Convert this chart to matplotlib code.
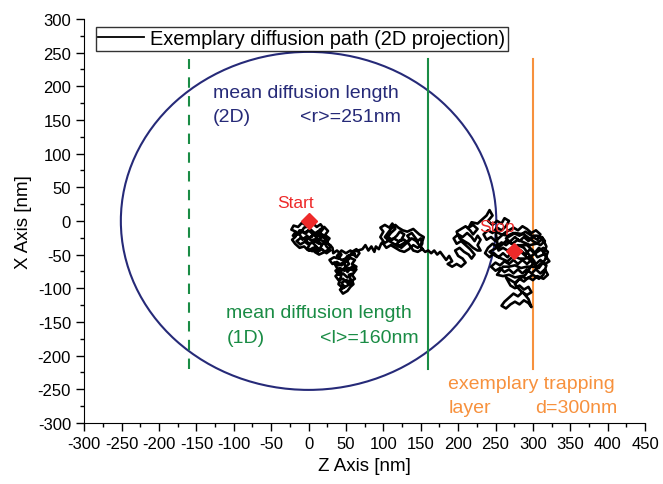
import matplotlib
matplotlib.use('Agg')
import matplotlib.pyplot as plt
from matplotlib.ticker import MultipleLocator
from matplotlib.patches import Circle

plt.rcParams['font.family'] = ['Liberation Sans', 'DejaVu Sans']
plt.rcParams['axes.unicode_minus'] = False

# === data (nm) ===
# diffusion path as (Z, X) points
path = [
    # start cluster
    (0, 0), (-4, -6), (-9, -3), (-14, -9), (-20, -7), (-23, -13), (-17, -16), (-21, -22), (-14, -20), (-9, -14),
    (-4, -19), (2, -12), (7, -17), (4, -24), (-3, -27), (-10, -25), (-16, -30), (-11, -35), (-5, -31), (1, -36),
    (-2, -42), (5, -45), (9, -38), (14, -43), (18, -36), (12, -30), (17, -24), (11, -20), (15, -13), (21, -9),
    (26, -15), (22, -21), (28, -26), (24, -32), (30, -37), (26, -43), (20, -47), (14, -50), (8, -46), (12, -40),
    (6, -33), (10, -27), (3, -29), (-2, -22), (-8, -28), (-12, -20), (-6, -10), (0, -8), (6, -4), (11, -9),
    (16, -5), (20, -11), (15, -18), (9, -23), (14, -28), (20, -30), (24, -38), (29, -44),
    (24, -48), (18, -42), (12, -46), (6, -40), (0, -44), (-6, -38), (-12, -40), (-18, -34), (-22, -28), (-18, -24),
    (-12, -14), (-6, -18), (0, -14), (6, -20), (12, -16), (18, -20), (24, -24), (20, -34), (14, -34), (8, -30),
    (2, -34), (-4, -30), (2, -24), (8, -20), (14, -22), (22, -26), (26, -34), (32, -40),
    # descending lobe
    (33, -48), (38, -44), (44, -50), (40, -56), (34, -54), (28, -58), (32, -64), (38, -61), (44, -66), (50, -60),
    (56, -55), (62, -58), (58, -64), (64, -68), (60, -74), (54, -70), (48, -74), (42, -70), (36, -74), (40, -80),
    (46, -78), (52, -84), (58, -80), (62, -86), (56, -90), (50, -88), (44, -92), (48, -98), (42, -102), (46, -108),
    (52, -104), (56, -98), (60, -94), (58, -88), (52, -92), (46, -86), (40, -88), (36, -82), (42, -76), (48, -70),
    (54, -64), (50, -56), (44, -58), (38, -52), (44, -44), (50, -48), (56, -44), (62, -50), (58, -46), (64, -42),
    (68, -48), (64, -54), (60, -50), (52, -52), (46, -62), (40, -66), (34, -62), (38, -70), (44, -80), (40, -94),
    (46, -100), (52, -96), (58, -92), (54, -80), (60, -78), (64, -72), (58, -68), (52, -76), (48, -64), (54, -52),
    (60, -46), (66, -44),
    # thin link
    (72, -42), (76, -36), (80, -44), (84, -38), (88, -46), (90, -38), (94, -42), (97, -34),
    # middle cluster
    (100, -30), (96, -24), (100, -16), (96, -10), (102, -6), (108, -10), (112, -4), (116, -12), (110, -18), (106, -24),
    (112, -28), (118, -22), (122, -16), (128, -20), (124, -28), (118, -34), (124, -40), (130, -34), (136, -28), (132, -22),
    (138, -18), (142, -24), (146, -30), (150, -26), (152, -34), (146, -40), (140, -36), (134, -42), (128, -46), (122, -44),
    (116, -40), (110, -36), (104, -40), (100, -34), (106, -30), (114, -26), (120, -30), (128, -28), (134, -34), (140, -44),
    (146, -46), (152, -42), (148, -36), (144, -30), (138, -26), (132, -30), (126, -34), (120, -38), (114, -34), (108, -30),
    (102, -24), (106, -18), (110, -12), (116, -6), (120, -10), (126, -14), (132, -16), (140, -12), (144, -16), (148, -20),
    (154, -24), (150, -38), (154, -44),
    # link through the 1D line
    (156, -46), (160, -44), (164, -48), (168, -44), (172, -50), (176, -46),
    # cluster before the big one
    (180, -52), (184, -58), (188, -52), (192, -60), (186, -64), (192, -68), (198, -64), (204, -68), (210, -62), (206, -56),
    (200, -52), (196, -44), (202, -40), (208, -46), (214, -50), (218, -56), (222, -50), (216, -42), (210, -36), (204, -30),
    (198, -34), (194, -26), (200, -20), (206, -24), (212, -18), (218, -24), (222, -30), (226, -22), (230, -28), (226, -36),
    (230, -44), (226, -44), (220, -40), (214, -34), (208, -30), (202, -26), (198, -16), (204, -12), (210, -8), (216, -14),
    (220, -20),
    # big cluster around stop
    (226, -12), (220, -6), (214, -10), (218, -2), (226, -4), (232, 2), (238, 8), (242, 16), (246, 8), (240, 0),
    (246, -6), (252, 0), (258, -4), (262, 4), (268, 0), (264, -8), (258, -14), (252, -10), (246, -18), (240, -14),
    (234, -20), (238, -28), (244, -24), (250, -30), (256, -24), (262, -18), (268, -14), (274, -10), (280, -14), (286, -8),
    (292, -12), (298, -18), (304, -14), (310, -20), (306, -28), (300, -24), (294, -30), (288, -24), (282, -30), (276, -24),
    (270, -30), (264, -36), (258, -32), (252, -38), (246, -34), (240, -40), (236, -48), (242, -54), (248, -48), (254, -54),
    (260, -48), (266, -54), (272, -46), (278, -52), (284, -44), (290, -50), (296, -42), (302, -48), (308, -40), (314, -46),
    (318, -54), (322, -60), (316, -64), (310, -58), (304, -64), (298, -58), (292, -64), (286, -58), (280, -64), (274, -58),
    (268, -64), (262, -60), (256, -66), (250, -62), (244, -68), (250, -74), (256, -70), (262, -76), (268, -72), (274, -78),
    (280, -72), (286, -78), (292, -72), (298, -78), (304, -72), (310, -78), (316, -72), (320, -80), (314, -86), (306, -82),
    (300, -88), (294, -84), (288, -90), (282, -86), (276, -92), (270, -88), (264, -84),
    # lower tail
    (270, -96), (276, -100), (282, -96), (288, -102), (294, -98), (298, -106), (292, -110), (286, -106), (280, -112), (274, -108),
    (268, -114), (262, -120), (258, -126), (264, -130), (270, -124), (276, -120), (282, -124), (288, -118), (294, -122), (298, -128),
    (294, -116), (288, -108), (282, -102), (276, -94), (282, -86),
    # back into the core, ending at stop
    (290, -80), (296, -70), (302, -60), (296, -52), (288, -40), (280, -36), (272, -40), (266, -44), (260, -40), (254, -44),
    (250, -16), (258, -20), (266, -22), (274, -18), (282, -22), (290, -16), (298, -22), (306, -22), (312, -28), (304, -34),
    (296, -36), (288, -32), (280, -28), (272, -34), (264, -30), (256, -38), (248, -42), (242, -46), (250, -52), (258, -56),
    (266, -60), (274, -52), (282, -56), (290, -56), (298, -52), (306, -46), (314, -40), (320, -46), (316, -58), (308, -70),
    (300, -68), (292, -68), (284, -70), (276, -66), (268, -68), (260, -68), (252, -80), (260, -82), (268, -80), (276, -84),
    (284, -82), (292, -86), (300, -80), (308, -86), (314, -80), (318, -66), (312, -62), (306, -68),
    (264, -26), (276, -18), (288, -20), (300, -30), (310, -36), (316, -30), (312, -24), (318, -38), (314, -50), (306, -54),
    (300, -44), (292, -36), (284, -36), (276, -40), (275, -45),
]
path_z = [p[0] for p in path]
path_x = [p[1] for p in path]

start = (0, 0)
stop = (275, -45)
r_2d = 251
l_1d = 160
d_trap = 300

navy = '#262a78'
green = '#1a8c45'
orange = '#f7913d'
red = '#ee2a2a'

# === plotting ===
fig = plt.figure(figsize=(6.63, 4.85), dpi=100)
ax = fig.add_axes([0.127, 0.126, 0.846, 0.833])

ax.plot(path_z, path_x, color='black', lw=1.9, label='Exemplary diffusion path (2D projection)', zorder=3)
ax.add_patch(Circle((0, 0), r_2d, fill=False, ec=navy, lw=1.5, zorder=2))
ax.plot([-l_1d, -l_1d], [-220, 240], color=green, lw=1.5, ls=(0, (5, 4)))
ax.plot([l_1d, l_1d], [-220, 240], color=green, lw=1.5)
ax.plot([d_trap, d_trap], [-220, 240], color=orange, lw=1.5)

ax.plot(*start, marker='D', color=red, ms=8, zorder=4)
ax.plot(*stop, marker='D', color=red, ms=8, zorder=4)
ax.text(-18, 21, 'Start', color=red, fontsize=12.5, ha='center')
ax.text(252, -15, 'Stop', color=red, fontsize=12.5, ha='center', zorder=5)

ax.text(-128, 184, 'mean diffusion length', color=navy, fontsize=14)
ax.text(-128, 148, '(2D)', color=navy, fontsize=14)
ax.text(123, 148, '<r>=251nm', color=navy, fontsize=14, ha='right')

ax.text(-110, -143, 'mean diffusion length', color=green, fontsize=14)
ax.text(-110, -180, '(1D)', color=green, fontsize=14)
ax.text(147, -180, '<l>=160nm', color=green, fontsize=14, ha='right')

ax.text(187, -248, 'exemplary trapping', color=orange, fontsize=14)
ax.text(187, -284, 'layer', color=orange, fontsize=14)
ax.text(413, -284, 'd=300nm', color=orange, fontsize=14, ha='right')

ax.set_xlim(-300, 450)
ax.set_ylim(-300, 300)
ax.xaxis.set_major_locator(MultipleLocator(50))
ax.xaxis.set_minor_locator(MultipleLocator(25))
ax.yaxis.set_major_locator(MultipleLocator(50))
ax.yaxis.set_minor_locator(MultipleLocator(25))
ax.tick_params(which='major', length=6, width=1, labelsize=12, direction='out')
ax.tick_params(which='minor', length=3, width=1, direction='out')
for s in ['top', 'right']:
    ax.spines[s].set_visible(False)
ax.set_xlabel('Z Axis [nm]', fontsize=13.5)
ax.set_ylabel('X Axis [nm]', fontsize=13.5)

leg = ax.legend(loc='upper left', bbox_to_anchor=(0.021, 0.98), fontsize=14.4, frameon=True,
                fancybox=False, edgecolor='black', borderpad=0.12, handlelength=2.3,
                handletextpad=0.3, borderaxespad=0)
leg.get_frame().set_linewidth(1.0)
for line in leg.get_lines():
    line.set_linewidth(1.3)

fig.savefig('out.png', dpi=100)
